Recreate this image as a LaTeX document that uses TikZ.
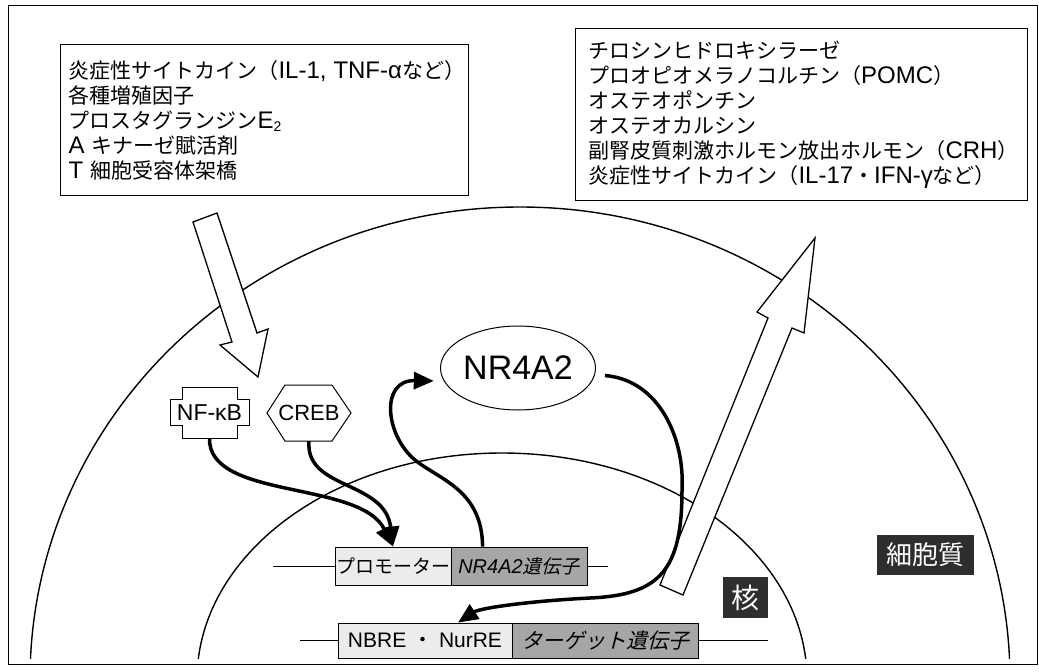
\documentclass[tikz,border=0pt]{standalone}
\usepackage{fontspec}
\setmainfont{Liberation Sans}
\newfontfamily\jp{Noto Sans CJK JP}
\newfontfamily\jpit[FakeSlant=0.25]{Noto Sans CJK JP}
\newcommand\latn[1]{{\rmfamily\fontsize{24}{25}\selectfont #1}}
\usetikzlibrary{arrows.meta,calc,shapes.geometric}
\begin{document}
\begin{tikzpicture}[x=1pt,y=-1pt,
  outerframe/.style={draw, line width=1pt},
  listbox/.style={draw, line width=1pt, anchor=north west, align=left, font=\jp\fontsize{21}{25}\selectfont, inner ysep=0pt},
  membrane/.style={line width=1.4pt},
  hollowarrow/.style={draw, fill=white, line width=1.3pt, line join=miter},
  flowarrow/.style={line width=3.5pt, -{Triangle[length=20pt,width=17pt]}},
  lightbox/.style={draw, line width=0.8pt, fill=gray!15, inner sep=0pt},
  darkbox/.style={draw, line width=0.8pt, fill=gray!70, inner sep=0pt},
  darklabel/.style={fill=black!82, text=white, inner sep=0pt},
  dnaline/.style={line width=1pt},
  protein/.style={line width=1pt}
]
\path[fill=white] (0,0) rectangle (1039,672);
\draw[outerframe] (8,5) rectangle (1037,664);

% membranes
\begin{scope}
\clip (0,0) rectangle (1039,658);
\draw[membrane] (520,680) ellipse [x radius=490pt, y radius=473pt];
\draw[membrane] (502,680) ellipse [x radius=305pt, y radius=227pt];
\end{scope}

% hollow arrows
\draw[hollowarrow] (193,222) -- (232,342) -- (220,345) -- (258,377) -- (268,329) -- (257,333) -- (217,213) -- cycle;
\draw[hollowarrow] (660,585) -- (768,318) -- (757,312) -- (815,238) -- (804,333) -- (792,328) -- (683,595) -- cycle;

% list boxes
\node[listbox, text width=392pt, inner xsep=8pt, minimum height=151pt] (inbox) at (60,44)
{\mbox{炎症性サイトカイン（\latn{IL-1, TNF-α}など）}\\
各種増殖因子\\
プロスタグランジン\latn{E}\raisebox{-3pt}{{\rmfamily\fontsize{14}{14}\selectfont 2}}\\
\latn{A} キナーゼ賦活剤\\
\latn{T} 細胞受容体架橋\\[4pt]};

\node[listbox, text width=426pt, inner xsep=13pt, minimum height=172pt] (outbox) at (575,28)
{チロシンヒドロキシラーゼ\\
プロオピオメラノコルチン（\latn{POMC}）\\
オステオポンチン\\
オステオカルシン\\
\mbox{副腎皮質刺激ホルモン放出ホルモン（\latn{CRH}）}\\
\mbox{炎症性サイトカイン（\latn{IL-17}・\latn{IFN-γ}など）}};

% NF-kB cross shape
\draw[protein] (182,387) -| (237,399) -| (249,425) -| (237,438) -| (182,425) -| (170,399) -| (182,387) -- cycle;
\node[font=\fontsize{23}{23}\selectfont, minimum width=79pt, minimum height=51pt, inner sep=0pt] (nfkb) at (209.5,412.5) {NF-κB};

% CREB hexagon
\draw[protein] (267,413) -- (285,385) -- (332,385) -- (351,413) -- (332,441) -- (285,441) -- cycle;
\node[font=\fontsize{22}{22}\selectfont, minimum width=84pt, minimum height=56pt, inner sep=0pt] (creb) at (309,413) {CREB};

% NR4A2
\node[draw, ellipse, line width=1pt, minimum width=130pt, minimum height=84pt, inner sep=0pt, font=\fontsize{34}{34}\selectfont] (nr) at (518,368) {NR4A2};

% promoter row
\coordinate (pl) at (273,566);
\coordinate (pr) at (608,566);
\node[lightbox, minimum width=116pt, minimum height=38pt, font=\jp\fontsize{19}{19}\selectfont] (prom) at (393,566) {プロモーター};
\node[darkbox, minimum width=136pt, minimum height=38pt, font=\fontsize{20}{20}\selectfont] (gene) at (519,566) {\itshape NR4A2{\jpit\fontsize{19}{19}\selectfont 遺伝子}};
\draw[dnaline] (pl) -- (prom.west);
\draw[dnaline] (gene.east) -- (pr);

% target row
\coordinate (tl) at (300,640.5);
\coordinate (tr) at (768,640.5);
\node[lightbox, minimum width=174pt, minimum height=35pt, font=\fontsize{21}{21}\selectfont] (nbre) at (425,640.5) {NBRE {\jp ・} NurRE};
\node[darkbox, minimum width=186pt, minimum height=35pt, font=\jpit\fontsize{21}{21}\selectfont] (tgt) at (605,640.5) {ターゲット遺伝子};
\draw[dnaline] (tl) -- (nbre.west);
\draw[dnaline] (tgt.east) -- (tr);

% labels
\node[darklabel, minimum width=45pt, minimum height=41pt, font=\jp\fontsize{28}{28}\selectfont] (nuc) at (745.5,597.5) {核};
\node[darklabel, minimum width=97pt, minimum height=40pt, font=\jp\fontsize{26}{26}\selectfont] (cyto) at (925.5,555) {細胞質};

% thick arrows
\coordinate (gstart) at ($(gene.north west)+(32,0)$);
\coordinate (tend) at ($(nbre.north)+(33,0)$);
\draw[flowarrow] (nfkb.south) .. controls (208,500) and (360,480) .. (prom.north);
\draw[flowarrow] (creb.south) .. controls (305,490) and (385,480) .. (prom.north);
\draw[flowarrow, shorten >=10pt] (gstart) .. controls (482,490) and (440,480) .. (415,460) .. controls (385,435) and (380,380) .. (nr.190);
\draw[flowarrow, shorten <=10pt] (nr.-5) .. controls (660,380) and (685,440) .. (682,490) .. controls (682,570) and (660,595) .. (590,598) .. controls (530,601) and (480,608) .. (tend);
\end{tikzpicture}
\end{document}
